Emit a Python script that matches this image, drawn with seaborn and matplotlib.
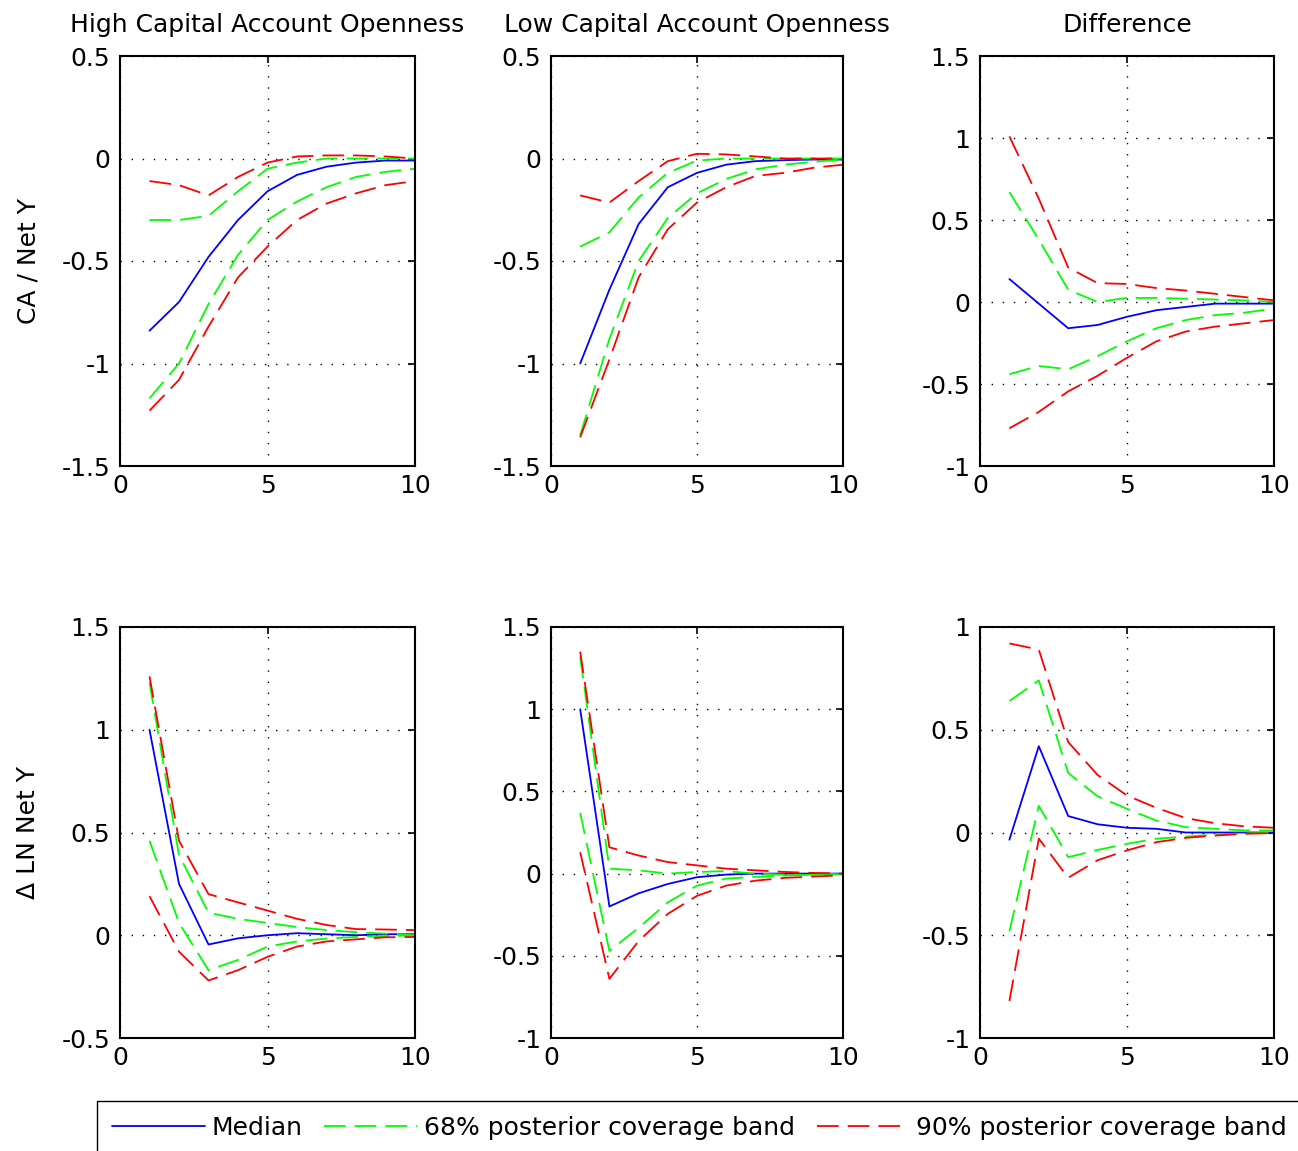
import matplotlib
matplotlib.use('Agg')
import matplotlib.pyplot as plt
import seaborn as sns
from matplotlib.lines import Line2D
from matplotlib.ticker import FuncFormatter

# horizon (quarters after the shock)
steps = [1, 2, 3, 4, 5, 6, 7, 8, 9, 10]

# CA / Net Y, high capital account openness
ca_high_med = [-0.84, -0.70, -0.48, -0.30, -0.16, -0.08, -0.04, -0.02, -0.01, -0.01]
ca_high_hi68 = [-0.30, -0.30, -0.28, -0.16, -0.05, -0.02, 0.0, 0.0, 0.0, 0.0]
ca_high_lo68 = [-1.17, -1.00, -0.71, -0.47, -0.30, -0.21, -0.14, -0.09, -0.065, -0.05]
ca_high_hi90 = [-0.11, -0.13, -0.18, -0.09, -0.02, 0.01, 0.015, 0.015, 0.01, 0.0]
ca_high_lo90 = [-1.23, -1.08, -0.82, -0.58, -0.43, -0.30, -0.22, -0.17, -0.13, -0.11]

# CA / Net Y, low capital account openness
ca_low_med = [-1.00, -0.64, -0.32, -0.14, -0.07, -0.03, -0.013, -0.008, -0.005, -0.005]
ca_low_hi68 = [-0.43, -0.36, -0.19, -0.07, -0.01, 0.0, 0.0, 0.0, 0.0, 0.0]
ca_low_lo68 = [-1.35, -0.88, -0.50, -0.29, -0.17, -0.10, -0.053, -0.03, -0.016, -0.005]
ca_low_hi90 = [-0.18, -0.215, -0.11, -0.013, 0.023, 0.02, 0.01, 0.0, 0.0, 0.0]
ca_low_lo90 = [-1.36, -0.98, -0.58, -0.345, -0.215, -0.14, -0.085, -0.07, -0.045, -0.03]

# CA / Net Y, difference
ca_diff_med = [0.14, -0.01, -0.16, -0.14, -0.09, -0.05, -0.03, -0.01, -0.01, -0.01]
ca_diff_hi68 = [0.67, 0.38, 0.075, 0.0, 0.025, 0.025, 0.02, 0.015, 0.01, 0.0]
ca_diff_lo68 = [-0.44, -0.39, -0.41, -0.33, -0.24, -0.16, -0.11, -0.08, -0.065, -0.04]
ca_diff_hi90 = [1.01, 0.63, 0.21, 0.115, 0.11, 0.085, 0.07, 0.05, 0.03, 0.01]
ca_diff_lo90 = [-0.77, -0.67, -0.545, -0.45, -0.34, -0.24, -0.18, -0.15, -0.13, -0.11]

# Delta LN Net Y, high openness
ln_high_med = [1.00, 0.25, -0.045, -0.015, 0.0, 0.01, 0.005, 0.0, 0.005, 0.005]
ln_high_hi68 = [1.23, 0.39, 0.11, 0.08, 0.06, 0.04, 0.025, 0.015, 0.008, 0.0]
ln_high_lo68 = [0.46, 0.06, -0.17, -0.12, -0.055, -0.03, -0.016, -0.008, -0.004, 0.0]
ln_high_hi90 = [1.26, 0.46, 0.20, 0.16, 0.12, 0.08, 0.05, 0.03, 0.028, 0.025]
ln_high_lo90 = [0.19, -0.08, -0.22, -0.17, -0.105, -0.055, -0.03, -0.02, -0.01, -0.008]

# Delta LN Net Y, low openness
ln_low_med = [1.00, -0.20, -0.12, -0.063, -0.022, -0.006, 0.0, 0.0, 0.0, 0.0]
ln_low_hi68 = [1.32, 0.03, 0.02, 0.0, 0.01, 0.015, 0.0, -0.006, -0.008, -0.002]
ln_low_lo68 = [0.37, -0.47, -0.33, -0.175, -0.073, -0.03, -0.02, -0.012, -0.006, -0.002]
ln_low_hi90 = [1.35, 0.16, 0.11, 0.07, 0.05, 0.03, 0.02, 0.01, 0.004, 0.0]
ln_low_lo90 = [0.13, -0.64, -0.41, -0.245, -0.135, -0.073, -0.043, -0.026, -0.018, -0.01]

# Delta LN Net Y, difference
ln_diff_med = [-0.035, 0.42, 0.08, 0.04, 0.023, 0.018, 0.0, 0.0, 0.0, 0.0]
ln_diff_hi68 = [0.64, 0.74, 0.29, 0.176, 0.115, 0.058, 0.026, 0.018, 0.01, 0.01]
ln_diff_lo68 = [-0.48, 0.13, -0.12, -0.085, -0.055, -0.03, -0.02, -0.01, -0.004, 0.0]
ln_diff_hi90 = [0.92, 0.89, 0.44, 0.28, 0.18, 0.12, 0.07, 0.045, 0.03, 0.023]
ln_diff_lo90 = [-0.82, -0.03, -0.22, -0.135, -0.087, -0.047, -0.026, -0.015, -0.006, -0.003]

titles = ['High Capital Account Openness', 'Low Capital Account Openness', 'Difference']
row_labels = ['CA / Net Y', '\u0394 LN Net Y']
legend_labels = ['Median', '68% posterior coverage band', '90% posterior coverage band']

sns.set_style('white')
plt.rcParams['font.family'] = ['DejaVu Sans']
plt.rcParams['axes.unicode_minus'] = False
plt.rcParams['text.color'] = 'black'
plt.rcParams['axes.labelcolor'] = 'black'

W, H = 1298, 1151
fig = plt.figure(figsize=(W / 100, H / 100), dpi=100)

# axes boxes in pixels (left, top, right, bottom)
cols = [(120, 415), (551, 843), (980, 1274)]
rows = [(56, 466), (627, 1038)]

panels = [
    (0, 0, ca_high_med, ca_high_hi68, ca_high_lo68, ca_high_hi90, ca_high_lo90, (-1.5, 0.5)),
    (0, 1, ca_low_med, ca_low_hi68, ca_low_lo68, ca_low_hi90, ca_low_lo90, (-1.5, 0.5)),
    (0, 2, ca_diff_med, ca_diff_hi68, ca_diff_lo68, ca_diff_hi90, ca_diff_lo90, (-1, 1.5)),
    (1, 0, ln_high_med, ln_high_hi68, ln_high_lo68, ln_high_hi90, ln_high_lo90, (-0.5, 1.5)),
    (1, 1, ln_low_med, ln_low_hi68, ln_low_lo68, ln_low_hi90, ln_low_lo90, (-1, 1.5)),
    (1, 2, ln_diff_med, ln_diff_hi68, ln_diff_lo68, ln_diff_hi90, ln_diff_lo90, (-1, 1)),
]

blue, green, red = '#0000ff', '#00ff00', '#ff0000'
dash = (12, 5)
lw = 1.3
fmt = FuncFormatter(lambda v, p: '%g' % round(v, 2))

for r, c, med, hi68, lo68, hi90, lo90, ylim in panels:
    x0, x1 = cols[c]
    y0, y1 = rows[r]
    ax = fig.add_axes([x0 / W, 1 - y1 / H, (x1 - x0) / W, (y1 - y0) / H])

    sns.lineplot(x=steps, y=med, ax=ax, color=blue, lw=lw)
    for vals, col in [(hi68, green), (lo68, green), (hi90, red), (lo90, red)]:
        sns.lineplot(x=steps, y=vals, ax=ax, color=col, lw=lw)
        ax.lines[-1].set_dashes(dash)

    ax.set_xlim(0, 10)
    ax.set_ylim(*ylim)
    ax.set_xticks([0, 5, 10])
    yt = [ylim[0] + 0.5 * i for i in range(int(round((ylim[1] - ylim[0]) / 0.5)) + 1)]
    ax.set_yticks(yt)
    ax.yaxis.set_major_formatter(fmt)
    ax.grid(True, color='black', linestyle=(0, (1, 7)), linewidth=1.0)
    ax.set_axisbelow(True)
    ax.tick_params(direction='in', top=True, right=True, length=5, width=1.2,
                   labelsize=18, colors='black')
    ax.tick_params(axis='y', pad=7)
    ax.tick_params(axis='x', pad=6)
    for s in ax.spines.values():
        s.set_color('black')
        s.set_linewidth(1.5)
    ax.set_xlabel('')
    if r == 0:
        ax.set_title(titles[c], fontsize=18, pad=17, color='black')
    if c == 0:
        ax.set_ylabel(row_labels[r], fontsize=18, color='black')
        ax.yaxis.set_label_coords(-0.27, 0.5)

handles = [Line2D([], [], color=blue, lw=lw),
           Line2D([], [], color=green, lw=lw, dashes=dash),
           Line2D([], [], color=red, lw=lw, dashes=dash)]
leg = fig.legend(handles, legend_labels, loc='upper left',
                 bbox_to_anchor=(97 / W, 1 - 1101 / H), ncol=3, fontsize=18,
                 frameon=True, fancybox=False, edgecolor='black', framealpha=1,
                 handlelength=3.7, handletextpad=0.3, columnspacing=0.85,
                 borderpad=0.6, borderaxespad=0)
leg.get_frame().set_linewidth(1.0)
for t in leg.get_texts():
    t.set_color('black')

fig.savefig('out.png', dpi=100, facecolor='white')
